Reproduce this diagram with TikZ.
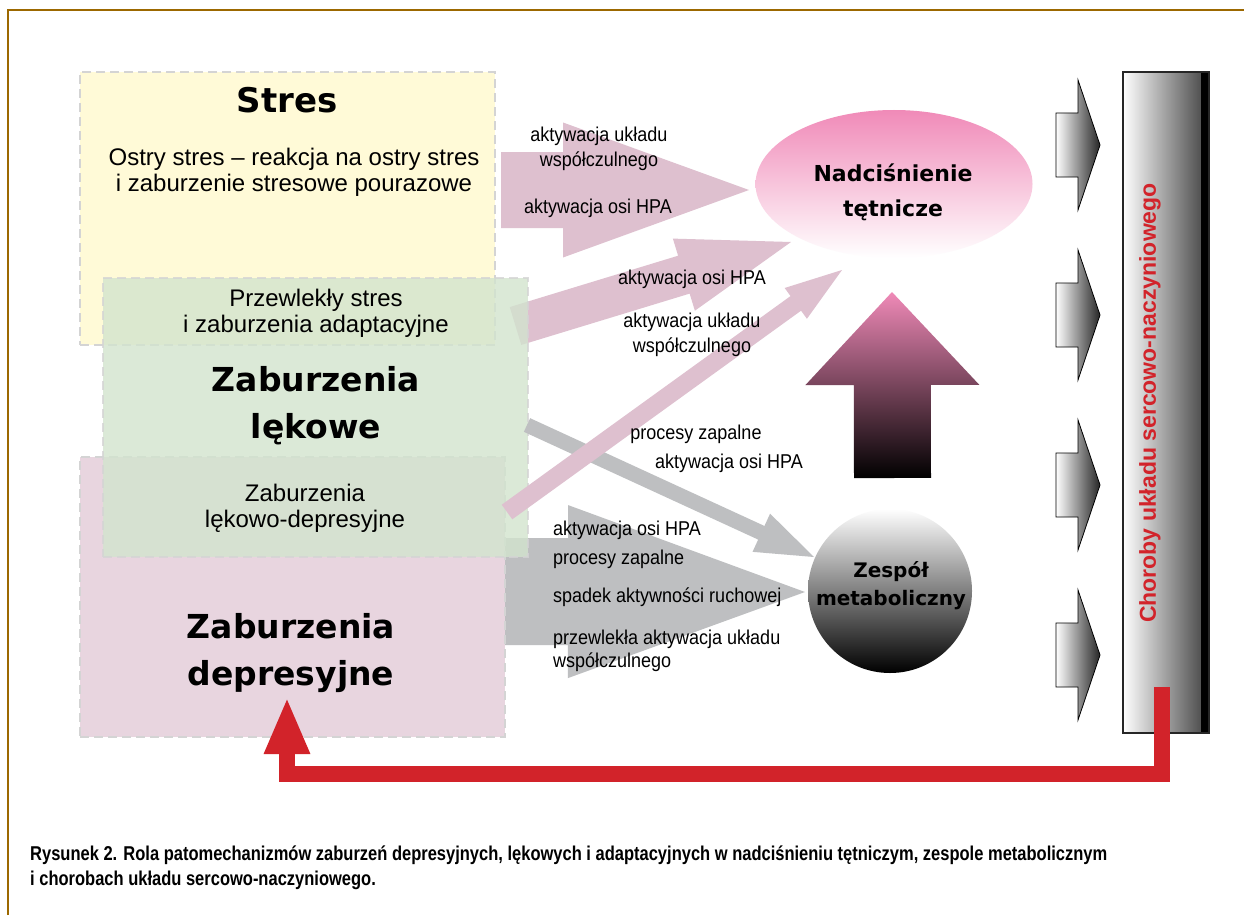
\documentclass[tikz,border=0pt]{standalone}
\usepackage{fontspec}
\setmainfont{Liberation Sans}
\newfontfamily\heavy{DejaVu Sans}
\newfontfamily\cond{Liberation Sans}[FakeStretch=0.9]
\newfontfamily\capfont{Liberation Sans}[FakeStretch=0.825]
\usetikzlibrary{calc,shapes.geometric,arrows.meta}
\definecolor{framec}{RGB}{156,104,0}
\definecolor{yelc}{RGB}{255,250,215}
\definecolor{grnc}{RGB}{210,228,206}
\definecolor{pnkc}{RGB}{232,213,223}
\definecolor{dashc}{RGB}{212,212,212}
\definecolor{parr}{RGB}{222,192,207}
\definecolor{garr}{RGB}{190,191,193}
\definecolor{pinkA}{RGB}{240,138,184}
\definecolor{pinkB}{RGB}{249,212,229}
\definecolor{mauve}{RGB}{178,124,152}
\definecolor{midgray}{RGB}{190,191,194}
\definecolor{boxgray}{RGB}{165,166,170}
\definecolor{redc}{RGB}{210,35,42}
\newcommand\fatarrow[6]{%
  \path ($(#3)!#6!(#2)$) coordinate (fah);
  \path[#1] ($(#2)!#4!90:(#3)$) -- ($(fah)!#4!90:(#3)$) -- ($(fah)!#5!90:(#3)$) -- (#3)
    -- ($(fah)!#5!-90:(#3)$) -- ($(fah)!#4!-90:(#3)$) -- ($(#2)!#4!-90:(#3)$) -- cycle;
}
\tikzset{
  box/.style={rectangle, inner sep=0pt, draw=dashc, line width=2.5pt, dash pattern=on 9pt off 5pt},
  heavytxt/.style={font=\heavy\bfseries\fontsize{33}{47}\selectfont, align=center},
  boxtxt/.style={font=\fontsize{24}{26}\selectfont, align=center},
  lbl/.style={font=\cond\fontsize{20}{25}\selectfont, align=center, inner sep=0pt},
  lbll/.style={font=\cond\fontsize{20}{25}\selectfont, align=left, inner sep=0pt, anchor=west},
  pinkarrow/.style={fill=parr},
  grayarrow/.style={fill=garr},
  smallarrow/.style={draw=black, line width=0.8pt, left color=white, right color=black!85},
}
\begin{document}
\begin{tikzpicture}[x=1pt,y=-1pt]
\useasboundingbox (0,0) rectangle (1244,915);
\fill[white] (0,0) rectangle (1244,915);
% frame
\draw[framec, line width=2.5pt] (8,915) -- (8,10) -- (1244,10);

% coordinates of the fat connectors
\coordinate (a1s) at (501,190); \coordinate (a1t) at (749,190);
\coordinate (a2s) at (515.5,326); \coordinate (a2t) at (791,242);
\coordinate (a3s) at (507,512); \coordinate (a3t) at (842,270);
\coordinate (a4s) at (527,425); \coordinate (a4t) at (814,557);
\coordinate (a5s) at (501,591.5); \coordinate (a5t) at (805,592);

% arrows under the boxes
\fatarrow{pinkarrow}{a2s}{a2t}{19.8pt}{37.7pt}{112pt}
\fatarrow{grayarrow}{a5s}{a5t}{53.5pt}{86.5pt}{237pt}

% boxes
\node[box, fill=yelc, minimum width=415pt, minimum height=273pt] (stres) at (287.5,208.5) {};
\node[box, fill=pnkc, minimum width=425pt, minimum height=280pt] (dep) at (292.5,597) {};
\node[box, fill=grnc, fill opacity=0.8, draw opacity=0.8, minimum width=425pt, minimum height=279pt] (lek) at (315.5,417.5) {};

% arrows over the boxes
\fatarrow{pinkarrow}{a1s}{a1t}{38pt}{67.5pt}{186pt}
\fatarrow{grayarrow}{a4s}{a4t}{7.5pt}{21pt}{58pt}
\fatarrow{pinkarrow}{a3s}{a3t}{9pt}{19pt}{57pt}

% box texts
\node[heavytxt, font=\heavy\bfseries\fontsize{34}{40}\selectfont] (t-stres) at (287,100) {Stres};
\node[boxtxt] (t-ostry) at (294,172) {Ostry stres – reakcja na ostry stres\\i zaburzenie stresowe pourazowe};
\node[boxtxt] (t-przew) at (316,313) {Przewlekły stres\\i zaburzenia adaptacyjne};
\node[heavytxt] (t-lek) at (316,406) {Zaburzenia\\lękowe};
\node[boxtxt] (t-lekdep) at (305,508) {Zaburzenia\\lękowo-depresyjne};
\node[heavytxt] (t-dep) at (291,653) {Zaburzenia\\depresyjne};

% Nadcisnienie
\node[ellipse, minimum width=277pt, minimum height=148pt, inner sep=0pt,
      top color=pinkA, middle color=pinkB, bottom color=white] (nad) at (894,184) {};
\node[font=\heavy\bfseries\fontsize{22}{35}\selectfont, align=center] (t-nad) at (893,192) {Nadciśnienie\\tętnicze};

% Zespol metaboliczny
\node[circle, minimum size=164pt, inner sep=0pt,
      top color=white, middle color=midgray, bottom color=black] (zesp) at (890,591) {};
\node[font=\heavy\bfseries\fontsize{20}{28}\selectfont, align=center] (t-zesp) at (891,586) {Zespół\\metaboliczny};

% up arrow from Zespol to Nadcisnienie
\coordinate (upb) at (892.5,478); \coordinate (upt) at (892,292);
\fatarrow{top color=pinkA, middle color=mauve, bottom color=black}{upb}{upt}{38.5pt}{87pt}{93pt}

% labels
\node[lbl] (l1) at (599,149) {aktywacja układu\\współczulnego};
\node[lbl] (l2) at (598,208) {aktywacja osi HPA};
\node[lbl] (l3) at (692,279) {aktywacja osi HPA};
\node[lbl] (l4) at (692,335) {aktywacja układu\\współczulnego};
\node[lbl] (l5) at (696,434) {procesy zapalne};
\node[lbl] (l6) at (729,463) {aktywacja osi HPA};
\node[lbll, font=\cond\fontsize{20}{29}\selectfont] (l7) at (553,545) {aktywacja osi HPA\\procesy zapalne};
\node[lbll] (l8) at (553,597) {spadek aktywności ruchowej};
\node[lbll, font=\cond\fontsize{20}{23.5}\selectfont] (l9) at (553,651) {przewlekła aktywacja układu\\współczulnego};

% right column box
\node[rectangle, inner sep=0pt, minimum width=86pt, minimum height=661pt,
      left color=white, middle color=boxgray, right color=black!75] (chor) at (1166,402.5) {};
\fill[black] ($(chor.north east)+(-8,0)$) rectangle (chor.south east);
\draw[black!85, line width=2pt] (chor.north west) rectangle (chor.south east);
\node[rotate=90, text=redc, font=\bfseries\fontsize{23}{23}\selectfont] (t-chor) at (1150,403) {Choroby układu sercowo-naczyniowego};

% small arrows
\coordinate (s1a) at (1056,145); \coordinate (s1b) at (1100,145);
\coordinate (s2a) at (1056,315); \coordinate (s2b) at (1100,315);
\coordinate (s3a) at (1056,485); \coordinate (s3b) at (1100,485);
\coordinate (s4a) at (1056,655); \coordinate (s4b) at (1100,655);
\fatarrow{smallarrow}{s1a}{s1b}{32pt}{65pt}{22pt}
\fatarrow{smallarrow}{s2a}{s2b}{32pt}{65pt}{22pt}
\fatarrow{smallarrow}{s3a}{s3b}{32pt}{65pt}{22pt}
\fatarrow{smallarrow}{s4a}{s4b}{32pt}{65pt}{22pt}

% red feedback connector
\coordinate (redstart) at (1162,687);
\coordinate (redend) at (287,697);
\draw[redc, line width=16pt, line join=miter, -{Triangle[length=57pt,width=42pt]}]
  (redstart) -- ++(0,86.5) -| (redend);

% caption
\node[anchor=west, align=left, inner sep=0pt, font=\capfont\bfseries\fontsize{20}{25}\selectfont] (caption) at (30,868)
  {Rysunek 2. Rola patomechanizmów zaburzeń depresyjnych, lękowych i adaptacyjnych w nadciśnieniu tętniczym, zespole metabolicznym\\i chorobach układu sercowo-naczyniowego.};
\end{tikzpicture}
\end{document}
